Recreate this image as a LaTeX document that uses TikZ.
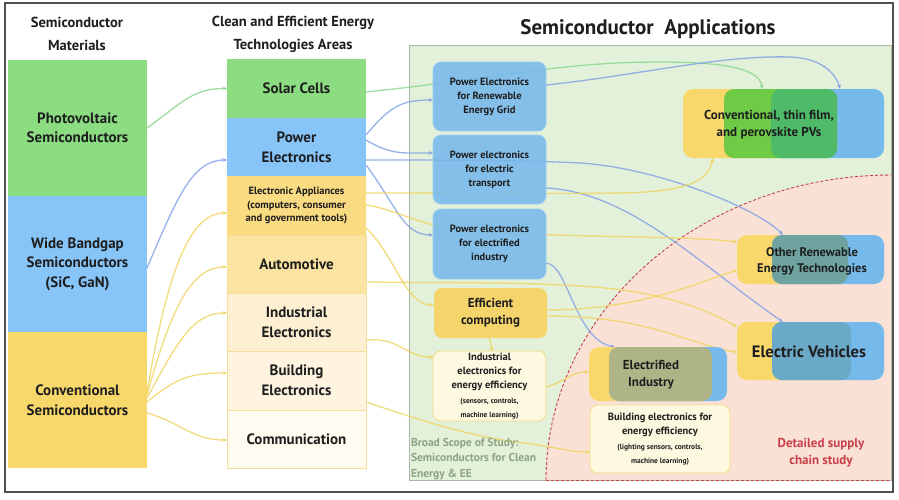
\documentclass[tikz,border=0pt]{standalone}
\usepackage{fontspec}
\setmainfont{PT Sans}
\usetikzlibrary{arrows.meta,calc}
\definecolor{txt}{HTML}{1E1E1E}
\definecolor{cgreen}{HTML}{8CDC82}
\definecolor{cblue}{HTML}{87C4F8}
\definecolor{cyellow}{HTML}{F9D86B}
\definecolor{cappl}{HTML}{F9DB82}
\definecolor{cauto}{HTML}{FBE3A2}
\definecolor{cindus}{HTML}{FDEFD2}
\definecolor{cbuild}{HTML}{FEF4E0}
\definecolor{ccomm}{HTML}{FFFBF1}
\definecolor{mborder}{HTML}{F5DE9A}
\definecolor{bggreen}{HTML}{E3F0DA}
\definecolor{bgborder}{HTML}{A9B8A4}
\definecolor{pinkbg}{HTML}{F9E1D6}
\definecolor{dashred}{HTML}{C8404A}
\definecolor{bluebox}{HTML}{76B9EB}
\definecolor{blueborder}{HTML}{9CCDF2}
\definecolor{effcol}{HTML}{F6D46C}
\definecolor{indfill}{HTML}{FDF8E0}
\definecolor{indborder}{HTML}{F3DC86}
\definecolor{pvlime}{HTML}{6FCB45}
\definecolor{pvdark}{HTML}{4FBA68}
\definecolor{olive}{HTML}{AFB487}
\definecolor{tealA}{HTML}{6FA3A0}
\definecolor{tealB}{HTML}{6AAAC8}
\definecolor{congreen}{HTML}{86D68A}
\definecolor{conblue}{HTML}{7F9FE6}
\definecolor{conyellow}{HTML}{EFD45A}
\definecolor{broadtxt}{HTML}{8CA583}
\definecolor{frame}{HTML}{505050}
\pgfdeclarelayer{back}
\pgfdeclarelayer{links}
\pgfsetlayers{back,links,main}
\newcommand\smallf{\fontsize{7.5}{10.5}\selectfont}
\begin{document}
\begin{tikzpicture}[x=1pt,y=-1pt,
  every node/.style={inner sep=0pt, outer sep=0pt, align=center, text=txt},
  hdr/.style={font=\fontsize{14.5}{23}\selectfont\bfseries},
  lbox/.style={minimum width=139pt, minimum height=136pt, font=\fontsize{15}{19.5}\selectfont\bfseries},
  mbox/.style={minimum width=139pt, font=\fontsize{15}{20}\selectfont\bfseries},
  rbox/.style={rounded corners=8pt, minimum width=113pt, font=\fontsize{10.5}{14}\selectfont\bfseries},
  bbox/.style={rbox, fill=bluebox, fill opacity=0.88, text opacity=1, draw=blueborder, line width=0.8pt},
  cbox/.style={rounded corners=10pt, line width=0pt},
  con/.style={line width=1.3pt, draw opacity=0.8, -{Stealth[length=4.5pt,width=4pt]}},
  gcon/.style={con, draw=congreen},
  bcon/.style={con, draw=conblue},
  ycon/.style={con, draw=conyellow}
]
\useasboundingbox (0,0) rectangle (899,499);

% ---------- backgrounds ----------
\begin{pgfonlayer}{back}
\fill[white] (0,0) rectangle (899,499);
\node[draw=bgborder, fill=bggreen, line width=0.8pt, minimum width=482pt, minimum height=435pt] (broad) at (650,262.5) {};
\fill[pinkbg] plot[domain=180:270, samples=60] ({891+345*cos(\x)},{480+305*sin(\x)}) -- (891,480) -- cycle;
\draw[dashred, line width=0.9pt, dash pattern=on 3pt off 2pt] plot[domain=180:270, samples=60] ({891+345*cos(\x)},{480+305*sin(\x)});
\draw[dashred, line width=0.9pt, dash pattern=on 3pt off 2pt] (546,480) -- (891,480);
\end{pgfonlayer}
\draw[frame, line width=1.6pt] (5,3) rectangle (893,492);

% ---------- headers ----------
\node[hdr] (h1) at (77,34) {Semiconductor\\Materials};
\node[hdr] (h2) at (293,34) {Clean and Efficient Energy\\Technologies Areas};
\node[font=\fontsize{21}{25}\selectfont\bfseries] (h3) at (648,29) {Semiconductor\enspace Applications};

% ---------- left column ----------
\node[lbox, fill=cgreen] (pvm) at (77.5,128) {Photovoltaic\\Semiconductors};
\node[lbox, fill=cblue] (wbg) at (77.5,264) {Wide Bandgap\\Semiconductors\\(SiC, GaN)};
\node[lbox, fill=cyellow] (conv) at (77.5,400) {Conventional\\Semiconductors};

% ---------- middle column ----------
\node[mbox, fill=cgreen, minimum height=59pt] (solar) at (296.5,88.5) {Solar Cells};
\node[mbox, fill=cblue, minimum height=58pt] (power) at (296.5,147) {Power\\Electronics};
\node[mbox, fill=cappl, minimum height=59pt, font=\fontsize{10.5}{13.5}\selectfont\bfseries] (appl) at (296.5,205.5) {Electronic Appliances\\(computers, consumer\\and government tools)};
\node[mbox, fill=cauto, draw=mborder, line width=0.6pt, minimum height=58pt] (auto) at (296.5,264) {Automotive};
\node[mbox, fill=cindus, draw=mborder, line width=0.6pt, minimum height=58pt] (indus) at (296.5,322) {Industrial\\Electronics};
\node[mbox, fill=cbuild, draw=mborder, line width=0.6pt, minimum height=59pt] (build) at (296.5,380.5) {Building\\Electronics};
\node[mbox, fill=ccomm, draw=mborder, line width=0.6pt, minimum height=58pt] (comm) at (296.5,439) {Communication};

% ---------- application boxes ----------
\node[bbox, minimum height=69pt] (b1) at (489.5,96.5) {Power Electronics\\for Renewable\\Energy Grid};
\node[bbox, minimum height=69pt] (b2) at (489.5,169.5) {Power electronics\\for electric\\transport};
\node[bbox, minimum height=70pt] (b3) at (489.5,244) {Power electronics\\for electrified\\industry};
\node[rbox, fill=effcol, minimum height=50pt, font=\fontsize{13}{17}\selectfont\bfseries] (effc) at (490.5,313) {Efficient\\computing};
\node[rbox, fill=indfill, draw=indborder, line width=0.8pt, minimum height=70pt] (indb) at (489.5,386) {Industrial\\electronics for\\energy efficiency\\[1pt]\smallf (sensors, controls,\\\smallf machine learning)};
\node[rbox, fill=indfill, draw=indborder, line width=0.8pt, minimum width=140pt, minimum height=68pt] (bldb) at (660,439) {Building electronics for\\energy efficiency\\[1pt]\smallf (lighting sensors, controls,\\\smallf machine learning)};

% PV composite (683-884)
\node[cbox, fill=cyellow, minimum width=107pt, minimum height=69pt] (pvY) at (736.5,123.5) {};
\node[cbox, fill=bluebox, minimum width=113pt, minimum height=69pt] (pvB) at (827.5,123.5) {};
\node[cbox, fill=pvlime, minimum width=113pt, minimum height=69pt] (pvG) at (780.5,123.5) {};
\node[cbox, fill=pvdark, minimum width=66pt, minimum height=69pt] (pvD) at (804,123.5) {};
\node[minimum width=201pt, minimum height=69pt] (pv) at (783.5,123.5) {};
\node[font=\fontsize{13}{17}\selectfont\bfseries] (pvt) at (769,124.5) {Conventional, thin film,\\and perovskite PVs};

% Other renewable composite (737-884)
\node[cbox, fill=cyellow, minimum width=111pt, minimum height=49pt] (orY) at (792.5,259.5) {};
\node[cbox, fill=bluebox, minimum width=112pt, minimum height=49pt] (orB) at (828,259.5) {};
\node[fill=tealA, minimum width=76pt, minimum height=49pt, rounded corners=10pt] (orT) at (810,259.5) {};
\node[minimum width=147pt, minimum height=49pt] (oret) at (810.5,259.5) {};
\node[font=\fontsize{12.5}{16}\selectfont\bfseries] (oretxt) at (812,261) {Other Renewable\\Energy Technologies};

% EV composite (737-884)
\node[cbox, fill=cyellow, minimum width=114pt, minimum height=58pt] (evY) at (794,351) {};
\node[cbox, fill=bluebox, minimum width=112pt, minimum height=58pt] (evB) at (828,351) {};
\node[fill=tealB, minimum width=79pt, minimum height=58pt, rounded corners=10pt] (evT) at (811.5,351) {};
\node[minimum width=147pt, minimum height=58pt] (ev) at (810.5,351) {};
\node[font=\fontsize{16.5}{20}\selectfont\bfseries] (evtxt) at (809,352) {Electric Vehicles};

% Electrified industry composite (589-727)
\node[cbox, fill=cyellow, minimum width=123pt, minimum height=54pt] (eiY) at (650.5,374) {};
\node[cbox, fill=bluebox, minimum width=118pt, minimum height=54pt] (eiB) at (668,374) {};
\node[fill=olive, minimum width=103pt, minimum height=54pt, rounded corners=10pt] (eiO) at (660.5,374) {};
\node[minimum width=138pt, minimum height=54pt] (ei) at (658,374) {};
\node[font=\fontsize{13}{17}\selectfont\bfseries] (eitxt) at (651,375) {Electrified\\Industry};

% ---------- side labels ----------
\node[anchor=north west, align=left, text=broadtxt, font=\fontsize{11.5}{15.5}\selectfont\bfseries] (broadtxt) at (411,438) {Broad Scope of Study:\\Semiconductors for Clean\\Energy \& EE};
\node[text=dashred, font=\fontsize{13}{17}\selectfont\bfseries] (detail) at (821,453) {Detailed supply\\chain study};

% ---------- connectors ----------
\begin{pgfonlayer}{links}
% left -> middle
\draw[gcon] (pvm.east) .. controls +(35,-25) and +(-35,0) .. (solar.west);
\draw[bcon] ($(wbg.east)+(0,4)$) .. controls +(30,-70) and +(-35,0) .. ($(power.west)+(0,13)$);
\draw[ycon] ($(conv.east)+(0,-8)$) .. controls +(22,-130) and +(-35,0) .. ($(appl.west)+(0,7.5)$);
\draw[ycon] ($(conv.east)+(0,-5)$) .. controls +(25,-90) and +(-35,0) .. ($(auto.west)+(0,3)$);
\draw[ycon] ($(conv.east)+(0,-2)$) .. controls +(30,-55) and +(-35,0) .. ($(indus.west)+(0,-9)$);
\draw[ycon] ($(conv.east)+(0,2)$) .. controls +(30,-25) and +(-35,0) .. ($(build.west)+(0,-7.5)$);
\draw[ycon] ($(conv.east)+(0,13)$) .. controls +(35,10) and +(-35,0) .. ($(comm.west)+(0,1)$);
% middle -> applications
\draw[gcon] ($(solar.east)+(0,3.5)$) .. controls (500,78) and (560,62) .. (660,62) .. controls (730,62) and (760,70) .. ($(pv.north)+(-21.5,0)$);
\draw[bcon] ($(power.east)+(0,-12)$) .. controls +(25,-30) and +(-30,0) .. ($(b1.west)+(0,3.5)$);
\draw[bcon] ($(power.east)+(0,-7)$) .. controls +(25,15) and +(-30,0) .. ($(b2.west)+(0,-16.5)$);
\draw[bcon] ($(power.east)+(0,13)$) .. controls (450,160) and (520,160) .. (580,163) .. controls (660,168) and (760,210) .. ($(oret.north)+(-27.5,0)$);
\draw[bcon] ($(power.east)+(0,18)$) .. controls +(30,40) and +(-30,0) .. ($(b3.west)+(0,-9)$);
\draw[bcon] ($(b1.east)+(0,-11.5)$) .. controls (640,75) and (720,55) .. (790,57) .. controls (822,58) and (836,74) .. ($(pv.north)+(56.5,0)$);
\draw[bcon] ($(b2.east)+(0,18.5)$) .. controls (630,192) and (700,265) .. ($(ev.north)+(-27.5,0)$);
\draw[bcon] ($(b3.east)+(0,19)$) .. controls (568,264) and (575,340) .. ($(ei.north)+(-43,0)$);
\draw[ycon] ($(appl.east)+(0,-12.5)$) .. controls (480,193) and (560,194) .. (620,193) .. controls (685,192) and (708,182) .. ($(pv.south)+(-70.5,0)$);
\draw[ycon] ($(appl.east)+(0,-0.5)$) .. controls (400,210) and (420,228) .. (480,232) .. controls (600,238) and (690,236) .. ($(oret.west)+(0,-17.5)$);
\draw[ycon] ($(appl.east)+(0,22.5)$) .. controls (395,255) and (405,305) .. ($(effc.west)+(0,-8)$);
\draw[ycon] ($(auto.east)+(0,18)$) .. controls (450,283) and (520,282) .. (580,286) .. controls (650,290) and (700,305) .. ($(ev.west)+(0,-24)$);
\draw[ycon] ($(effc.east)+(0,-3)$) .. controls (640,310) and (700,282) .. ($(oret.west)+(0,10.5)$);
\draw[ycon] ($(effc.east)+(0,3)$) .. controls (650,316) and (690,345) .. ($(ev.west)+(0,1)$);
\draw[ycon] ($(effc.south)+(-1,0)$) -- ($(indb.north)+(3,0)$);
\draw[ycon] ($(indus.east)+(0,18)$) .. controls (400,337) and (405,357) .. ($(indb.west)+(0,-29)$);
\draw[ycon] ($(indb.east)+(0,1)$) .. controls (565,382) and (570,372) .. ($(ei.west)+(0,-2)$);
\draw[ycon] ($(build.east)+(0,21.5)$) .. controls (420,420) and (470,437) .. (525,443) .. controls (555,447) and (570,452) .. ($(bldb.west)+(0,13)$);
\end{pgfonlayer}
\end{tikzpicture}
\end{document}
